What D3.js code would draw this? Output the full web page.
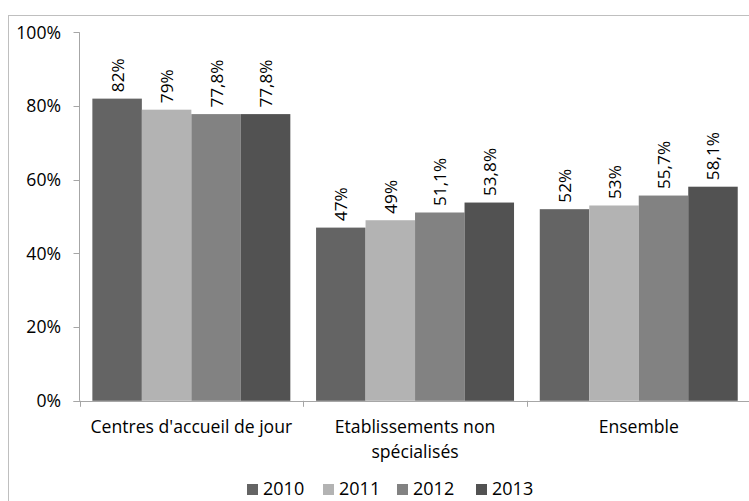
<!DOCTYPE html>
<html><head><meta charset="utf-8">
<script src="https://cdn.jsdelivr.net/npm/d3@7"></script>
<style>body{margin:0;background:#fff}svg{display:block}text{font-family:"Open Sans",sans-serif;fill:#000;font-size:17.6px}</style>
</head><body>
<svg id="c" width="749" height="501"></svg>
<script>
const categories = ["Centres d'accueil de jour", "Etablissements non spécialisés", "Ensemble"];
const categoryLines = [["Centres d'accueil de jour"], ["Etablissements non", "spécialisés"], ["Ensemble"]];
const years = ["2010", "2011", "2012", "2013"];
const values2010 = [82, 47, 52];
const values2011 = [79, 49, 53];
const values2012 = [77.8, 51.1, 55.7];
const values2013 = [77.8, 53.8, 58.1];
const labels2010 = ["82%", "47%", "52%"];
const labels2011 = ["79%", "49%", "53%"];
const labels2012 = ["77,8%", "51,1%", "55,7%"];
const labels2013 = ["77,8%", "53,8%", "58,1%"];
const yTicks = [0, 20, 40, 60, 80, 100];
const colors = ["#646464", "#b3b3b3", "#828282", "#525252"];

const series = [values2010, values2011, values2012, values2013];
const seriesLabels = [labels2010, labels2011, labels2012, labels2013];

const svg = d3.select("#c");
// outer border
svg.append("rect").attr("x", 8.5).attr("y", 15.5).attr("width", 760).attr("height", 500)
  .attr("fill", "none").attr("stroke", "#bfbfbf");

const mLeft = 79.5, mRight = 750.6, mTop = 32.3, mBottom = 400.8;
const x0 = d3.scaleBand().domain(categories).range([mLeft, mRight]).paddingInner(0).paddingOuter(0);
const x1 = d3.scaleBand().domain(years).range([0, x0.bandwidth()]).paddingInner(0).paddingOuter(0.26);
const y = d3.scaleLinear().domain([0, 100]).range([mBottom, mTop]);

const g = svg.append("g");
categories.forEach((c, ci) => {
  years.forEach((yr, si) => {
    const v = series[si][ci];
    const bx = x0(c) + x1(yr);
    g.append("rect").attr("x", bx).attr("y", y(v)).attr("width", x1.bandwidth()).attr("height", y(0) - y(v))
      .attr("fill", colors[si]);
    g.append("text").attr("transform", `translate(${bx + x1.bandwidth() / 2 + 6.5},${y(v) - 6.5}) rotate(-90)`)
      .attr("text-anchor", "start").style("font-size", "17.2px").text(seriesLabels[si][ci]);
  });
});

// y axis
const axisColor = "#a6a6a6";
svg.append("line").attr("x1", mLeft).attr("x2", mLeft).attr("y1", mTop).attr("y2", mBottom).attr("stroke", axisColor);
yTicks.forEach(t => {
  svg.append("line").attr("x1", mLeft - 6).attr("x2", mLeft).attr("y1", Math.round(y(t)) + 0.5).attr("y2", Math.round(y(t)) + 0.5).attr("stroke", axisColor);
  svg.append("text").attr("x", 61).attr("y", y(t)).attr("dy", "0.36em").attr("text-anchor", "end").text(t + "%");
});
// x axis
svg.append("line").attr("x1", mLeft - 6).attr("x2", mRight).attr("y1", Math.round(mBottom) + 0.5).attr("y2", Math.round(mBottom) + 0.5).attr("stroke", axisColor);
[mLeft, ...categories.map(c => x0(c) + x0.bandwidth())].forEach(t => {
  svg.append("line").attr("x1", Math.round(t) + 0.5).attr("x2", Math.round(t) + 0.5).attr("y1", mBottom).attr("y2", mBottom + 6).attr("stroke", axisColor);
});
categories.forEach((c, ci) => {
  categoryLines[ci].forEach((ln, li) => {
    svg.append("text").attr("x", x0(c) + x0.bandwidth() / 2).attr("y", 433 + li * 25)
      .attr("text-anchor", "middle").text(ln);
  });
});

// legend
const legX = [247, 323, 397, 476];
years.forEach((yr, i) => {
  svg.append("rect").attr("x", legX[i]).attr("y", 484).attr("width", 11).attr("height", 11).attr("fill", colors[i]);
  svg.append("text").attr("x", legX[i] + 16).attr("y", 495).style("font-size", "18px").text(yr);
});
</script>
</body></html>
